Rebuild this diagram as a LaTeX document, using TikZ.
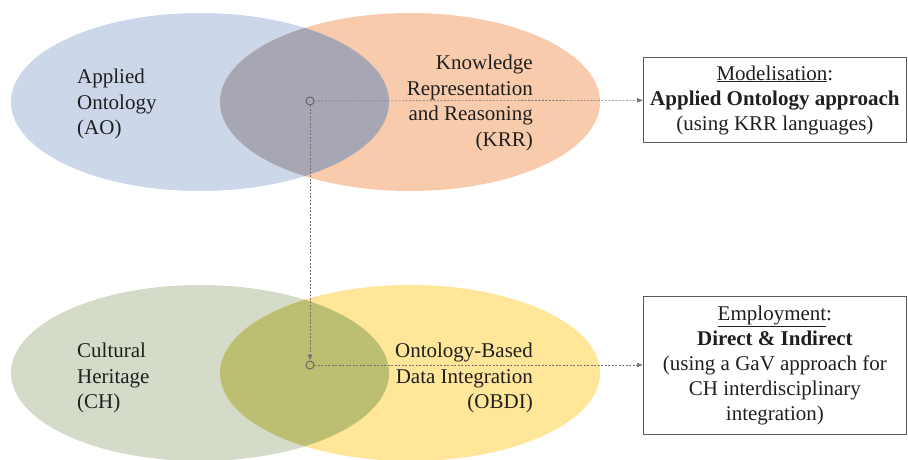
\documentclass[tikz,border=0pt]{standalone}
\usepackage{fontspec}
\setmainfont{Liberation Serif}
\usetikzlibrary{arrows.meta,positioning}
\definecolor{aoblue}{HTML}{CDD7EA}
\definecolor{krrorange}{HTML}{F8CBAD}
\definecolor{topmix}{HTML}{A6A7B3}
\definecolor{chgreen}{HTML}{D4DBC8}
\definecolor{obdiyellow}{HTML}{FFE699}
\definecolor{botmix}{HTML}{BCBE72}
\definecolor{linegray}{HTML}{595959}
\tikzset{
  txt/.style={font=\fontsize{21}{25.5}\selectfont, text=black!88, inner sep=0pt},
  dot/.style={circle, draw=linegray, line width=0.8pt, minimum size=8pt, inner sep=0pt},
  link/.style={draw=linegray!85, line width=0.6pt, dash pattern=on 2pt off 1.5pt,
    -{Latex[length=6pt,width=5pt]}},
  infobox/.style={draw=linegray, line width=0.8pt, minimum width=263pt, align=center,
    inner sep=0pt, text=black!88, font=\fontsize{21}{25}\selectfont}
}

\begin{document}
\begin{tikzpicture}[x=1pt,y=-1pt]
  \useasboundingbox (0,0) rectangle (908,460);
  % top pair
  \fill[aoblue]    (200,102) ellipse [x radius=189pt, y radius=89pt];
  \fill[krrorange] (410,102) ellipse [x radius=190pt, y radius=89pt];
  \begin{scope}
    \clip (200,102) ellipse [x radius=189pt, y radius=89pt];
    \fill[topmix] (410,102) ellipse [x radius=190pt, y radius=89pt];
  \end{scope}
  % bottom pair
  \fill[chgreen]    (200,373) ellipse [x radius=189pt, y radius=88pt];
  \fill[obdiyellow] (410,373) ellipse [x radius=190pt, y radius=88pt];
  \begin{scope}
    \clip (200,373) ellipse [x radius=189pt, y radius=88pt];
    \fill[botmix] (410,373) ellipse [x radius=190pt, y radius=88pt];
  \end{scope}

  \node (AO)   [txt, anchor=west, align=left]  at (77,104)  {Applied\\Ontology\\(AO)};
  \node (KRR)  [txt, anchor=east, align=right] at (533,103) {Knowledge\\Representation\\and Reasoning\\(KRR)};
  \node (CH)   [txt, anchor=west, align=left]  at (77,378)  {Cultural\\Heritage\\(CH)};
  \node (OBDI) [txt, anchor=east, align=right] at (533,378) {Ontology-Based\\Data Integration\\(OBDI)};

  \node (dotA) [dot] at (310,101) {};
  \node (dotB) [dot] at (310,365) {};

  \node (model)  [infobox, minimum height=85pt, anchor=west] at (643,100)
    {\underline{Modelisation}:\\\textbf{Applied Ontology approach}\\(using KRR languages)};
  \node (employ) [infobox, minimum height=138pt, anchor=west] at (643,365)
    {\underline{Employment}:\\\textbf{Direct \& Indirect}\\(using a GaV approach for\\CH interdisciplinary\\integration)};

  \draw[link] (dotA) -- (model);
  \draw[link] (dotA) -- (dotB);
  \draw[link] (dotB) -- (employ);
\end{tikzpicture}
\end{document}
